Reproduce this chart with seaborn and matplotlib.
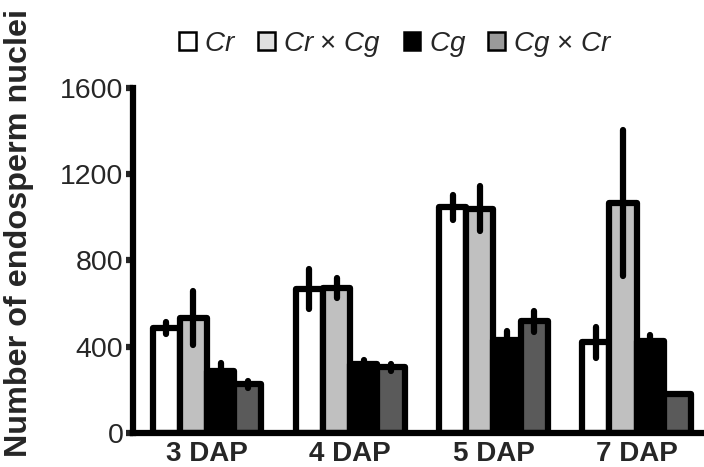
import matplotlib
matplotlib.use("Agg")
import matplotlib.pyplot as plt
import seaborn as sns
import pandas as pd
import numpy as np
from matplotlib.patches import Patch

days = ["3 DAP", "4 DAP", "5 DAP", "7 DAP"]
genotypes = ["Cr", "Cr × Cg", "Cg", "Cg × Cr"]
cr_vals = [488, 668, 1046, 420]
crcg_vals = [532, 672, 1040, 1066]
cg_vals = [288, 320, 430, 426]
cgcr_vals = [226, 304, 518, 180]
cr_err = [28, 92, 60, 70]
crcg_err = [125, 48, 105, 340]
cg_err = [35, 20, 45, 28]
cgcr_err = [15, 15, 50, 0]
yticks = [0, 400, 800, 1200, 1600]

bar_colors = ["#ffffff", "#c0c0c0", "#000000", "#5a5a5a"]
legend_colors = ["#ffffff", "#e0e0e0", "#000000", "#9a9a9a"]
legend_labels = [r"$\it{Cr}$", r"$\it{Cr}$ × $\it{Cg}$", r"$\it{Cg}$", r"$\it{Cg}$ × $\it{Cr}$"]

sns.set_style("white")
plt.rcParams["font.family"] = ["Liberation Sans", "DejaVu Sans"]
plt.rcParams["mathtext.fontset"] = "custom"
plt.rcParams["mathtext.it"] = "Liberation Sans:italic"
plt.rcParams["mathtext.rm"] = "Liberation Sans"

vals = [cr_vals, crcg_vals, cg_vals, cgcr_vals]
errs = [cr_err, crcg_err, cg_err, cgcr_err]
rows = []
for g, v in zip(genotypes, vals):
    for d, x in zip(days, v):
        rows.append({"day": d, "genotype": g, "value": x})
df = pd.DataFrame(rows)

fig = plt.figure(figsize=(7.04, 4.67), dpi=100)
ax = fig.add_axes([0.189, 0.0728, 0.811, 0.7388])

sns.barplot(data=df, x="day", y="value", hue="genotype", order=days,
            hue_order=genotypes, palette=bar_colors, width=0.76, gap=0,
            edgecolor="black", linewidth=4.5, errorbar=None, legend=False, ax=ax)

for p in ax.patches:
    p.set_joinstyle("round")

# map patches to (day, genotype)
patches = list(ax.patches)
by_cat = {}
for p in patches:
    xc = p.get_x() + p.get_width() / 2
    by_cat.setdefault(int(round(xc)), []).append((xc, p))
for ci, lst in by_cat.items():
    lst.sort(key=lambda t: t[0])
    for hi, (xc, p) in enumerate(lst):
        if errs[hi][ci] <= 0:
            continue
        _, caps, bars = ax.errorbar(xc, vals[hi][ci], yerr=errs[hi][ci], fmt="none",
                                    ecolor="black", elinewidth=4.5, capsize=0, zorder=5)
        for b in bars:
            b.set_capstyle("round")

ax.set_ylim(0, 1600)
ax.set_xlim(-0.516, 3.47)
ax.set_yticks(yticks)
ax.set_yticklabels([str(t) for t in yticks], fontsize=20.5)
ax.set_xticks(range(len(days)))
ax.set_xticklabels(days, fontsize=20, fontweight="bold")
ax.tick_params(axis="y", direction="out", length=5, width=4.5, pad=2, left=True)
ax.tick_params(axis="x", length=0, pad=6)
ax.set_xlabel("")
ax.set_ylabel("Number of endosperm nuclei", fontsize=23.3, fontweight="bold")
ax.yaxis.set_label_coords(-0.174, 0.58)

for s in ["top", "right"]:
    ax.spines[s].set_visible(False)
for s in ["left", "bottom"]:
    ax.spines[s].set_linewidth(4.5)
    ax.spines[s].set_color("black")

handles = [Patch(facecolor=c, edgecolor="black", linewidth=1.8) for c in legend_colors]
fig.legend(handles, legend_labels, loc="center", bbox_to_anchor=(0.562, 0.905), ncol=4,
           frameon=False, fontsize=20, handlelength=0.6, handleheight=0.6,
           handletextpad=0.3, columnspacing=0.8)

fig.savefig("out.png", dpi=100)
